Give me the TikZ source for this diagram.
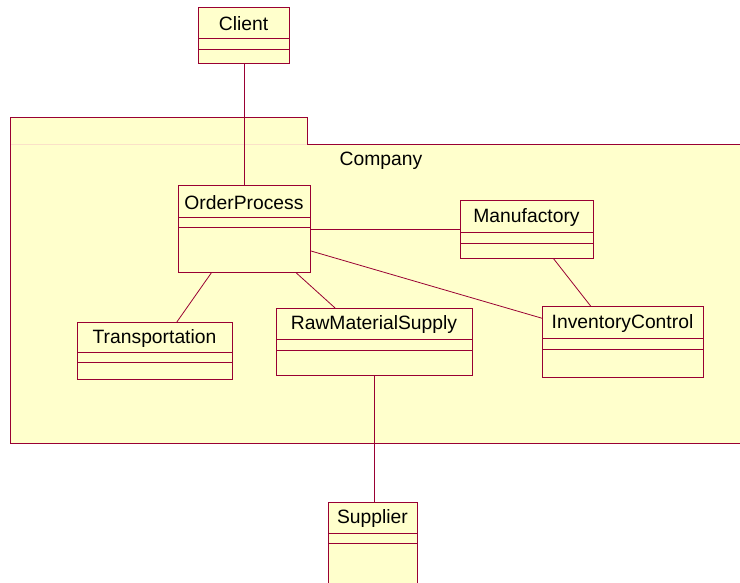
\documentclass[tikz,border=0pt]{standalone}
\usepackage{fontspec}
\setmainfont{Liberation Sans}
\usetikzlibrary{calc}
\definecolor{umlfill}{RGB}{255,255,204}
\definecolor{umlline}{RGB}{153,0,51}
\definecolor{umlpale}{RGB}{250,225,200}
\tikzset{
  cls/.style={draw=umlline, fill=umlfill, line width=1pt, inner sep=0pt, rectangle},
  sep/.style={draw=umlline, line width=0.8pt},
  lbl/.style={inner sep=0pt, font=\fontsize{19.3}{21}\selectfont},
  link/.style={draw=umlline, line width=0.8pt},
  pkg/.style={draw=umlline, fill=umlfill, line width=1pt},
}
% name, left, top, right, bottom, first divider, second divider, label
\newcommand\classbox[8]{%
  \node[cls, anchor=north west, minimum width={(#4-#2)*1pt}, minimum height={(#5-#3)*1pt}] (#1) at (#2,#3) {};
  \draw[sep] (#2,#6) -- (#4,#6);
  \draw[sep] (#2,#7) -- (#4,#7);
  \node[lbl] (#1-name) at ({(#2+#4)/2},{(#3+#6)/2+1.5}) {#8};
}
\begin{document}
\begin{tikzpicture}[x=1pt, y=-1pt]
  \useasboundingbox (0,0) rectangle (740,582);
  \clip (0,0) rectangle (740,582);
  % package with its tab
  \fill[umlfill] (10,117) rectangle (307,144);
  \fill[umlfill] (10,144) rectangle (760,443);
  \draw[umlpale, line width=0.8pt] (10,144) -- (307,144);
  \draw[pkg, fill=none] (10,144) -- (10,117) -- (307,117) -- (307,144) -- (760,144);
  \draw[pkg, fill=none] (10,144) -- (10,443) -- (760,443);
  \node[lbl] (company) at (381,160.5) {Company};
  % classes
  \classbox{client}{198}{7}{289}{63}{38}{49}{Client}
  \classbox{order}{178}{185}{310}{272}{217}{227}{OrderProcess}
  \classbox{manu}{460}{200}{593}{258}{232}{243}{Manufactory}
  \classbox{trans}{77}{322}{232}{379}{352}{362}{Transportation}
  \classbox{raw}{276}{308}{472}{375}{339}{350}{RawMaterialSupply}
  \classbox{inv}{542}{306}{703}{377}{338}{349}{InventoryControl}
  \classbox{supp}{328}{502}{417}{600}{533}{543}{Supplier}
  % associations
  \draw[link] (client.south) -- (client.south |- order.north);
  \draw[link] (order.east |- manu.west) -- (manu.west);
  \draw[link] ($(order.north east)!0.75!(order.south east)$) -- ($(inv.north west)!0.17!(inv.south west)$);
  \draw[link] ($(order.south west)!0.25!(order.south east)$) -- ($(trans.north west)!0.64!(trans.north east)$);
  \draw[link] ($(order.south west)!0.89!(order.south east)$) -- ($(raw.north west)!0.30!(raw.north east)$);
  \draw[link] ($(manu.south west)!0.70!(manu.south east)$) -- ($(inv.north west)!0.30!(inv.north east)$);
  \draw[link] (raw.south) -- (raw.south |- supp.north);
\end{tikzpicture}
\end{document}
